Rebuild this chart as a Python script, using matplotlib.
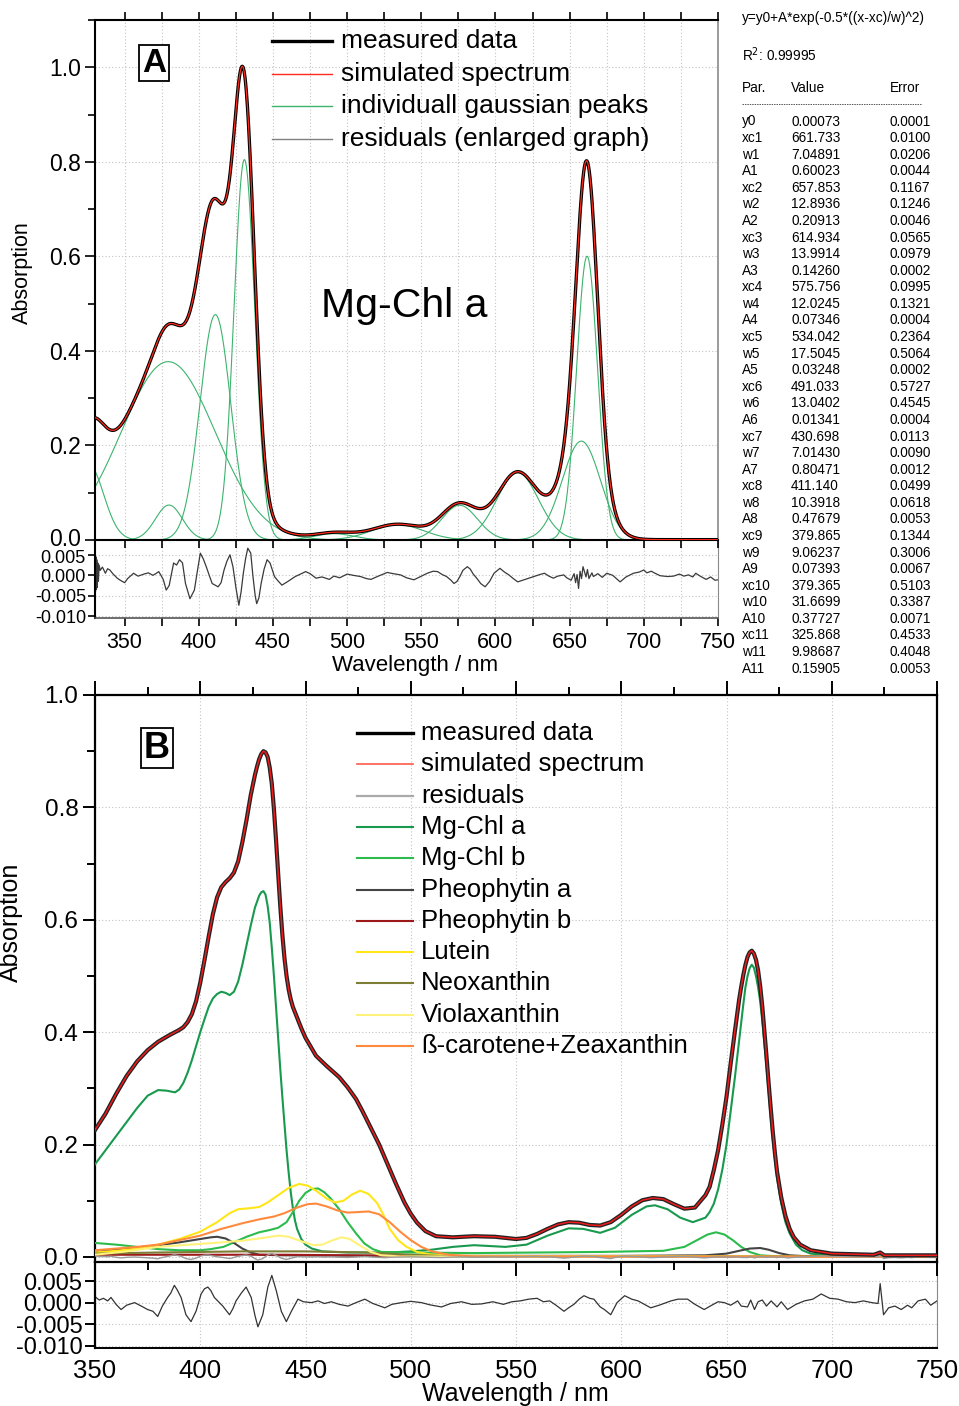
import numpy as np
import matplotlib
matplotlib.use('Agg')
import matplotlib.pyplot as plt
from matplotlib.lines import Line2D
from matplotlib.ticker import MultipleLocator, FormatStrFormatter
from matplotlib.transforms import ScaledTranslation

plt.rcParams['font.family'] = ['Liberation Sans', 'DejaVu Sans']

# ------------------------------------------------------------------ data A
y0 = 0.00073
xc = [661.733, 657.853, 614.934, 575.756, 534.042, 491.033, 430.698, 411.140, 379.865, 379.365, 325.868]
wd = [7.04891, 12.8936, 13.9914, 12.0245, 17.5045, 13.0402, 7.01430, 10.3918, 9.06237, 31.6699, 9.98687]
amp = [0.60023, 0.20913, 0.14260, 0.07346, 0.03248, 0.01341, 0.80471, 0.47679, 0.07393, 0.37727, 0.15905]

tab_par = ['y0'] + [f'{p}{i}' for i in range(1, 12) for p in ('xc', 'w', 'A')]
tab_val = ['0.00073',
           '661.733', '7.04891', '0.60023', '657.853', '12.8936', '0.20913',
           '614.934', '13.9914', '0.14260', '575.756', '12.0245', '0.07346',
           '534.042', '17.5045', '0.03248', '491.033', '13.0402', '0.01341',
           '430.698', '7.01430', '0.80471', '411.140', '10.3918', '0.47679',
           '379.865', '9.06237', '0.07393', '379.365', '31.6699', '0.37727',
           '325.868', '9.98687', '0.15905']
tab_err = ['0.0001',
           '0.0100', '0.0206', '0.0044', '0.1167', '0.1246', '0.0046',
           '0.0565', '0.0979', '0.0002', '0.0995', '0.1321', '0.0004',
           '0.2364', '0.5064', '0.0002', '0.5727', '0.4545', '0.0004',
           '0.0113', '0.0090', '0.0012', '0.0499', '0.0618', '0.0053',
           '0.1344', '0.3006', '0.0067', '0.5103', '0.3387', '0.0071',
           '0.4533', '0.4048', '0.0053']

resA_wl = [330.0, 330.3, 330.6, 330.9, 331.2, 331.5, 331.9, 332.3, 332.8, 333.5, 335, 337, 338.5, 340, 342, 345, 347, 350, 352, 356, 359, 363,
           366, 369, 371, 373, 376, 378, 380, 383, 385, 387, 389, 391, 394, 397, 399, 401, 403, 405, 407, 409, 413, 415, 417, 419, 421, 423, 425, 427,
           428.5, 430, 431.5, 433, 435, 436.5, 438, 439, 440.5, 442, 444, 446, 448, 451, 453, 456, 460, 465, 468, 472, 475, 479, 483, 488, 491, 495, 500,
           504, 509, 513, 516, 521, 527, 531, 536, 540, 545, 549, 554, 558, 561, 564, 567, 570, 572, 574, 576, 578, 581, 583, 585, 588, 590, 593, 596, 599, 603,
           606, 609, 612, 615, 620, 626, 630, 633, 636, 639, 642, 646, 648, 651, 653, 654, 655, 656, 657, 658, 659, 661, 662, 663, 665, 666, 669, 672, 675, 679,
           684, 688, 693, 697, 700, 702, 705, 707, 711, 716, 720, 724, 727, 730, 733, 735, 738, 742, 745, 748, 750]
resA_val = [0.0050, -0.0040, 0.0045, -0.0035, 0.0038, -0.0030, 0.0030, -0.0015, 0.0025, 0.0012, 0.0020, 0.0005, 0.0016, 0.0013, 0.0004, -0.0007, -0.0012, -0.0018, -0.0008, 0.0005, -0.0002, 0.0003,
            0.0006, 0.0000, 0.0004, 0.0009, -0.0010, -0.0036, -0.0025, 0.0030, 0.0025, 0.0038, 0.0030, -0.0020, -0.0057, -0.0036, 0.0010, 0.0054, 0.0040, 0.0021, 0.0000, -0.0020, -0.0028, -0.0018, 0.0013, 0.0035, 0.0050, 0.0021, -0.0030, -0.0073,
            -0.0040, 0.0005, 0.0040, 0.0066, 0.0054, -0.0003, -0.0050, -0.0069, -0.0055, -0.0020, 0.0015, 0.0038, 0.0030, -0.0003, -0.0012, -0.0024, -0.0015, -0.0003, 0.0002, 0.0009, 0.0004, -0.0007, -0.0004, -0.0010, -0.0002, -0.0006, 0.0003,
            0.0000, -0.0003, -0.0008, -0.0010, -0.0002, 0.0007, 0.0004, 0.0001, -0.0006, -0.0011, -0.0004, 0.0005, 0.0010, 0.0009, 0.0002, -0.0003, -0.0012, -0.0020, -0.0015, -0.0003, 0.0012, 0.0021, 0.0015, 0.0003, -0.0010, -0.0020, -0.0028, -0.0015, 0.0005, 0.0017,
            0.0008, 0.0001, -0.0008, -0.0016, -0.0010, -0.0003, 0.0002, 0.0005, -0.0002, -0.0007, -0.0002, 0.0001, -0.0006, -0.0012, 0.0004, -0.0018, 0.0002, -0.0032, 0.0010, -0.0008, 0.0021, -0.0004, 0.0014, -0.0008, 0.0006, -0.0003, 0.0004, -0.0005, 0.0005, 0.0000,
            -0.0016, -0.0004, 0.0005, 0.0008, 0.0013, 0.0006, 0.0010, 0.0006, -0.0001, -0.0003, -0.0002, 0.0003, -0.0002, 0.0001, -0.0004, 0.0005, -0.0002, -0.0010, -0.0004, -0.0012, -0.0011]

# ------------------------------------------------------------------ data B
tot_wl = [350, 355, 360, 365, 370, 375, 380, 385, 390, 392, 394, 396, 398, 400, 402, 404, 406, 408, 410, 412, 414, 416,
          418, 420, 422, 424, 426, 427, 428, 429, 430, 431, 432, 433, 434, 435, 436, 437, 438, 439, 440, 441, 442, 443,
          444, 446, 448, 450, 455, 460, 466, 470, 474, 477, 481, 485, 489, 493, 497, 500, 503, 507, 512, 520, 530, 540,
          550, 555, 560, 565, 570, 575, 580, 585, 590, 595, 600, 605, 610, 615, 620, 625, 630, 635, 640, 642, 644, 646,
          648, 650, 652, 654, 656, 657, 658, 659, 660, 661, 662, 663, 664, 665, 666, 667, 668, 669, 670, 671, 672, 673,
          674, 676, 678, 680, 682, 685, 690, 700, 720, 723, 725, 750]
tot_val = [0.226, 0.255, 0.290, 0.322, 0.348, 0.368, 0.383, 0.394, 0.404, 0.409, 0.418, 0.432, 0.455, 0.488, 0.528, 0.570, 0.610, 0.640, 0.658, 0.667, 0.674, 0.684,
           0.704, 0.738, 0.778, 0.822, 0.858, 0.873, 0.886, 0.895, 0.900, 0.898, 0.890, 0.871, 0.842, 0.797, 0.742, 0.683, 0.625, 0.574, 0.532, 0.500, 0.476, 0.458,
           0.445, 0.426, 0.407, 0.390, 0.358, 0.340, 0.320, 0.302, 0.281, 0.260, 0.230, 0.200, 0.165, 0.130, 0.097, 0.077, 0.061, 0.046, 0.037, 0.035, 0.037, 0.036,
           0.032, 0.034, 0.041, 0.050, 0.058, 0.062, 0.061, 0.057, 0.056, 0.062, 0.075, 0.090, 0.101, 0.105, 0.103, 0.094, 0.086, 0.088, 0.110, 0.125, 0.155, 0.190,
           0.235, 0.285, 0.345, 0.402, 0.458, 0.481, 0.502, 0.520, 0.534, 0.542, 0.545, 0.540, 0.529, 0.510, 0.482, 0.446, 0.402, 0.357, 0.310, 0.265, 0.222, 0.185,
           0.152, 0.106, 0.073, 0.050, 0.035, 0.022, 0.012, 0.006, 0.004, 0.008, 0.003, 0.003]

chla_wl = [350, 355, 360, 365, 370, 375, 380, 384, 388, 390, 392, 394, 396, 398, 400, 402, 404, 406, 408, 410, 412, 414,
           416, 418, 420, 422, 424, 426, 428, 429, 430, 431, 432, 433, 434, 435, 436, 437, 438, 439, 440, 441, 442, 443,
           444, 445, 446, 448, 450, 453, 458, 470, 490, 500, 510, 520, 530, 545, 555, 565, 575, 582, 590, 597, 605, 612,
           616, 622, 628, 634, 640, 642, 644, 646, 648, 650, 652, 654, 656, 658, 659, 660, 661, 662, 663, 664, 665, 666,
           667, 668, 669, 670, 671, 672, 673, 674, 676, 678, 680, 683, 686, 690, 700, 750]
chla_val = [0.165, 0.190, 0.215, 0.240, 0.265, 0.287, 0.297, 0.296, 0.293, 0.298, 0.310, 0.328, 0.350, 0.375, 0.400, 0.423, 0.445, 0.460, 0.468, 0.472, 0.470, 0.466,
            0.472, 0.490, 0.520, 0.555, 0.590, 0.622, 0.643, 0.649, 0.651, 0.645, 0.625, 0.595, 0.550, 0.500, 0.445, 0.390, 0.335, 0.285, 0.237, 0.190, 0.150, 0.115,
            0.087, 0.065, 0.050, 0.032, 0.022, 0.015, 0.010, 0.008, 0.008, 0.010, 0.013, 0.018, 0.021, 0.018, 0.022, 0.038, 0.051, 0.050, 0.043, 0.052, 0.075, 0.090,
            0.092, 0.085, 0.070, 0.062, 0.070, 0.080, 0.095, 0.120, 0.155, 0.200, 0.260, 0.320, 0.385, 0.450, 0.480, 0.500, 0.514, 0.520, 0.515, 0.500, 0.480, 0.455,
            0.420, 0.380, 0.340, 0.295, 0.250, 0.210, 0.175, 0.140, 0.095, 0.062, 0.042, 0.022, 0.012, 0.006, 0.003, 0.001]

chlb_wl = [350, 360, 370, 380, 390, 400, 405, 411, 416, 422, 428, 433, 437, 441, 444, 447, 450, 453, 456, 459, 462, 466,
           470, 474, 478, 482, 486, 500, 530, 560, 590, 620, 630, 636, 641, 645, 649, 653, 657, 661, 666, 675, 750]
chlb_val = [0.025, 0.022, 0.018, 0.014, 0.012, 0.012, 0.014, 0.018, 0.026, 0.036, 0.044, 0.048, 0.052, 0.062, 0.080, 0.100, 0.114, 0.121, 0.122, 0.115, 0.104, 0.085,
            0.062, 0.042, 0.024, 0.014, 0.009, 0.008, 0.007, 0.008, 0.009, 0.011, 0.018, 0.030, 0.040, 0.044, 0.040, 0.030, 0.018, 0.009, 0.003, 0.001, 0.000]

pheoa_wl = [350, 360, 370, 380, 390, 400, 405, 408, 412, 416, 420, 424, 428, 440, 500, 600, 640, 650, 656, 661, 666, 670, 675, 680, 690, 750]
pheoa_val = [0.009, 0.013, 0.017, 0.021, 0.026, 0.032, 0.035, 0.036, 0.033, 0.025, 0.015, 0.008, 0.004, 0.003, 0.002, 0.002, 0.003, 0.006, 0.011, 0.015, 0.016, 0.013, 0.007, 0.003, 0.001, 0.000]

pheob_wl = [350, 400, 440, 500, 600, 750]
pheob_val = [0.004, 0.004, 0.004, 0.002, 0.001, 0.001]

neox_wl = [350, 380, 420, 450, 480, 500, 520, 750]
neox_val = [0.006, 0.008, 0.010, 0.010, 0.008, 0.004, 0.001, 0.000]

lut_wl = [350, 360, 370, 380, 390, 400, 408, 414, 418, 424, 428, 432, 437, 442, 447, 451, 455, 460, 464, 468, 472, 476,
          480, 484, 487, 490, 494, 498, 503, 510, 520, 750]
lut_val = [0.008, 0.011, 0.015, 0.022, 0.032, 0.045, 0.062, 0.078, 0.085, 0.087, 0.089, 0.097, 0.110, 0.123, 0.130, 0.127, 0.118, 0.104, 0.097, 0.100, 0.111, 0.118,
           0.112, 0.096, 0.075, 0.050, 0.030, 0.018, 0.009, 0.004, 0.002, 0.000]

viol_wl = [350, 365, 380, 395, 410, 420, 430, 437, 442, 448, 454, 458, 463, 467, 471, 476, 481, 486, 495, 750]
viol_val = [0.004, 0.010, 0.018, 0.022, 0.026, 0.029, 0.034, 0.038, 0.036, 0.028, 0.021, 0.022, 0.030, 0.035, 0.032, 0.020, 0.009, 0.003, 0.001, 0.000]

carz_wl = [350, 360, 370, 380, 390, 400, 410, 420, 428, 435, 440, 446, 451, 455, 460, 465, 470, 475, 480, 485, 490, 495,
           500, 505, 510, 518, 530, 750]
carz_val = [0.012, 0.015, 0.018, 0.022, 0.030, 0.038, 0.050, 0.060, 0.067, 0.072, 0.078, 0.088, 0.094, 0.095, 0.090, 0.083, 0.079, 0.080, 0.081, 0.076, 0.062, 0.045,
            0.030, 0.018, 0.010, 0.004, 0.001, 0.000]

resB_wl = [350.5, 352, 354, 356, 357.6, 360, 362.4, 365, 368.8, 372, 375, 377.5, 379.8, 382, 384.5, 386, 387.7, 389, 390.9, 393.2, 395.6, 398, 400.4, 402, 403.6,
           405, 406.7, 410.7, 413.9, 415.5, 417, 419.5, 421.8, 424.2, 426, 427.4, 429.7, 432.1, 434, 436.1, 438.5, 440.9, 443.3, 446.4, 449, 452.8, 456, 459,
           462.3, 466, 470.2, 474, 478.2, 482, 487.7, 491, 495.6, 500, 505.1, 509, 514.6, 519, 524.1, 529, 533.6, 539, 544, 548, 552, 556, 560, 563,
           566, 569, 572.8, 575, 577.5, 580, 582.3, 585, 587, 590, 592, 595, 598, 601.6, 605, 608, 611, 614, 618, 623.6, 627, 631.5, 635, 639.4,
           643, 646, 649, 652, 655.3, 657, 660, 661.5, 663.3, 665, 667, 669, 671.2, 674, 676, 679, 683, 687, 691, 695, 699, 703, 707, 711, 715,
           719, 722, 723, 724.6, 727, 730, 733, 736, 738, 741, 744.5, 747, 750]
resB_val = [0.0012, 0.0006, 0.0010, 0.0004, 0.0012, -0.0004, -0.0016, -0.0006, 0.0000, -0.0008, -0.0016, -0.0020, -0.0032, -0.0008, 0.0012, 0.0022, 0.0040, 0.0030, 0.0012, -0.0028, -0.0044, -0.0020, 0.0020, 0.0032, 0.0036,
            0.0028, 0.0012, -0.0008, -0.0028, -0.0014, 0.0004, 0.0022, 0.0036, 0.0012, -0.0030, -0.0056, -0.0028, 0.0036, 0.0063, 0.0028, -0.0020, -0.0044, -0.0020, 0.0008, 0.0002, 0.0000, 0.0004, -0.0002,
            0.0002, -0.0004, -0.0008, 0.0000, 0.0008, -0.0002, -0.0012, -0.0004, 0.0000, 0.0003, 0.0000, -0.0005, -0.0010, -0.0002, 0.0002, -0.0004, -0.0003, 0.0002, -0.0004, 0.0002, 0.0004, 0.0008, 0.0010, 0.0002,
            0.0004, -0.0006, -0.0020, -0.0012, -0.0004, 0.0008, 0.0016, 0.0010, 0.0008, -0.0010, -0.0016, -0.0028, 0.0000, 0.0016, 0.0008, 0.0004, -0.0004, -0.0012, -0.0006, 0.0004, 0.0008, 0.0008, -0.0004, -0.0016,
            -0.0006, 0.0002, 0.0000, -0.0006, 0.0004, -0.0008, -0.0010, 0.0006, -0.0016, 0.0002, 0.0006, -0.0008, 0.0004, -0.0010, 0.0002, -0.0016, -0.0004, 0.0004, 0.0008, 0.0020, 0.0010, 0.0008, 0.0002, 0.0000, 0.0004,
            0.0000, -0.0002, 0.0044, -0.0028, -0.0012, -0.0008, -0.0016, -0.0006, -0.0012, 0.0004, 0.0008, -0.0006, 0.0004]

# ------------------------------------------------------------------ figure
W, H = 959, 1406
fig = plt.figure(figsize=(W / 100, H / 100), dpi=100)


def px_axes(l, t, r, b):
    return fig.add_axes([l / W, 1 - b / H, (r - l) / W, (b - t) / H])


def fx(x):
    return x / W


def fy(y):
    return 1 - y / H


GRID = dict(color='#c4c4c4', linestyle=(0, (1, 2)), linewidth=0.8)

# ============================== Panel A ==============================
axAr = px_axes(95, 540, 718, 618)
axA = px_axes(95, 20, 718, 540)
axAr.patch.set_alpha(0)

xg = np.arange(330.0, 750.01, 0.25)
peaks = [a * np.exp(-0.5 * ((xg - c) / w) ** 2) for c, w, a in zip(xc, wd, amp)]
model = y0 + np.sum(peaks, axis=0)

for p in peaks:
    axA.plot(xg, p, color='#3cb46e', lw=0.8, zorder=2)
axA.plot(xg, model, color='black', lw=2.4, zorder=3)
axA.plot(xg, model, color='#ff2a1a', lw=0.9, zorder=4)

axA.set_xlim(330, 750)
axA.set_ylim(0, 1.1)
axA.xaxis.set_major_locator(MultipleLocator(50))
axA.xaxis.set_minor_locator(MultipleLocator(25))
axA.yaxis.set_major_locator(MultipleLocator(0.2))
axA.yaxis.set_minor_locator(MultipleLocator(0.1))
axA.yaxis.set_major_formatter(FormatStrFormatter('%.1f'))
axA.tick_params(axis='x', which='both', direction='out', length=6, width=1.2,
                top=True, bottom=True, labelbottom=False, labeltop=False)
axA.tick_params(axis='y', which='major', direction='out', length=7, width=1.2, labelsize=16.5, pad=3)
axA.tick_params(axis='y', which='minor', direction='out', length=5, width=1.2)
axA.grid(True, axis='x', which='both', **GRID)
axA.grid(True, axis='y', which='major', **GRID)
axA.set_axisbelow(True)
for s in ('left', 'top', 'bottom'):
    axA.spines[s].set_linewidth(1.5)
axA.spines['right'].set_color('#8a8a8a')
axA.spines['right'].set_linewidth(1.2)

axAr.plot(resA_wl, resA_val, color='#3a3a3a', lw=0.9)
axAr.set_xlim(330, 750)
axAr.set_ylim(-0.0104, 0.0086)
axAr.set_yticks([-0.010, -0.005, 0.000, 0.005])
axAr.yaxis.set_major_formatter(FormatStrFormatter('%.3f'))
axAr.xaxis.set_major_locator(MultipleLocator(50))
axAr.xaxis.set_minor_locator(MultipleLocator(25))
axAr.tick_params(axis='x', which='both', direction='out', length=6, width=1.2, labelsize=15.5, pad=4)
axAr.tick_params(axis='y', direction='out', length=5, width=1.2, labelsize=13, pad=1.5)
axAr.grid(True, axis='x', which='both', **GRID)
axAr.grid(True, axis='y', which='major', **GRID)
axAr.spines['top'].set_visible(False)
axAr.spines['left'].set_linewidth(1.5)
axAr.spines['bottom'].set_linewidth(1.2)
axAr.spines['bottom'].set_color('#555555')
axAr.spines['right'].set_color('#8a8a8a')

fig.text(fx(22), fy(273), 'Absorption', rotation=90, ha='center', va='center', fontsize=15.5)
fig.text(fx(415), fy(666), 'Wavelength / nm', ha='center', va='center', fontsize=16)
fig.text(fx(154), fy(63), 'A', ha='center', va='center', fontsize=24, fontweight='bold',
         bbox=dict(boxstyle='square,pad=0.08', fc='white', ec='black', lw=1.3))
fig.text(fx(404), fy(306), 'Mg-Chl a', ha='center', va='center', fontsize=29.5)

legA = [('measured data', 'black', 2.4), ('simulated spectrum', '#ff2a1a', 1.0),
        ('individuall gaussian peaks', '#3cb46e', 1.0), ('residuals (enlarged graph)', '#808080', 1.0)]
for i, (lab, col, lw) in enumerate(legA):
    yy = 41 + i * 32.7
    fig.add_artist(Line2D([fx(272), fx(332)], [fy(yy), fy(yy)], color=col, lw=lw, transform=fig.transFigure))
    fig.text(fx(341), fy(yy), lab, ha='left', va='center', fontsize=19)

# table
tfs = 9.8
fig.text(fx(742), fy(18), 'y=y0+A*exp(-0.5*((x-xc)/w)^2)', ha='left', va='center', fontsize=tfs)
fig.text(fx(742), fy(55), 'R$^{2}$: 0.99995', ha='left', va='center', fontsize=tfs)
fig.text(fx(742), fy(88), 'Par.', ha='left', va='center', fontsize=tfs)
fig.text(fx(791), fy(88), 'Value', ha='left', va='center', fontsize=tfs)
fig.text(fx(890), fy(88), 'Error', ha='left', va='center', fontsize=tfs)
fig.add_artist(Line2D([fx(742), fx(922)], [fy(104), fy(104)], color='#555555', lw=0.7,
                      linestyle=(0, (1.5, 1)), transform=fig.transFigure))
for i, (p, v, e) in enumerate(zip(tab_par, tab_val, tab_err)):
    yy = 121.5 + i * 16.58
    fig.text(fx(742), fy(yy), p, ha='left', va='center', fontsize=tfs)
    fig.text(fx(791), fy(yy), v, ha='left', va='center', fontsize=tfs)
    fig.text(fx(890), fy(yy), e, ha='left', va='center', fontsize=tfs)

# ============================== Panel B ==============================
axBr = px_axes(95, 1262, 937, 1348)
axB = px_axes(95, 695, 937, 1262)
axBr.patch.set_alpha(0)

comps = [(chla_wl, chla_val, '#18994e', 'Mg-Chl a'),
         (chlb_wl, chlb_val, '#2cbb4c', 'Mg-Chl b'),
         (pheoa_wl, pheoa_val, '#444444', 'Pheophytin a'),
         (pheob_wl, pheob_val, '#9e1a1a', 'Pheophytin b'),
         (lut_wl, lut_val, '#ffe619', 'Lutein'),
         (neox_wl, neox_val, '#7d7d35', 'Neoxanthin'),
         (viol_wl, viol_val, '#fff27a', 'Violaxanthin'),
         (carz_wl, carz_val, '#ff8a3d', 'ß-carotene+Zeaxanthin')]
for wl, val, col, lab in comps:
    axB.plot(wl, val, color=col, lw=1.5, zorder=3)
axB.plot(resB_wl, resB_val, color='#9a9a9a', lw=1.0, zorder=3)
axB.plot(tot_wl, tot_val, color='#222222', lw=3.0, zorder=4)
axB.plot(tot_wl, tot_val, color='#ee1c1c', lw=1.1, zorder=5)

axB.set_xlim(350, 750)
axB.set_ylim(-0.0089, 1.0)
axB.xaxis.set_major_locator(MultipleLocator(50))
axB.xaxis.set_minor_locator(MultipleLocator(25))
axB.yaxis.set_major_locator(MultipleLocator(0.2))
axB.yaxis.set_minor_locator(MultipleLocator(0.1))
axB.yaxis.set_major_formatter(FormatStrFormatter('%.1f'))
axB.tick_params(axis='x', which='major', direction='out', length=10, width=1.4,
                top=True, bottom=True, labelbottom=False, labeltop=False)
axB.tick_params(axis='x', which='minor', direction='out', length=6, width=1.4, top=True, bottom=True)
axB.tick_params(axis='y', which='major', direction='out', length=9, width=1.4, labelsize=17.5, pad=3)
axB.tick_params(axis='y', which='minor', direction='out', length=6, width=1.4)
axB.grid(True, axis='both', which='major', **GRID)
axB.set_axisbelow(True)
for s in axB.spines.values():
    s.set_linewidth(1.6)

axBr.plot(resB_wl, resB_val, color='#333333', lw=0.9)
axBr.set_xlim(350, 750)
axBr.set_ylim(-0.0105, 0.0094)
axBr.set_yticks([-0.010, -0.005, 0.000, 0.005])
axBr.yaxis.set_major_formatter(FormatStrFormatter('%.3f'))
axBr.xaxis.set_major_locator(MultipleLocator(50))
axBr.tick_params(axis='x', which='both', length=0, labelsize=18.5, pad=8)
axBr.tick_params(axis='y', direction='out', length=7, width=1.4, labelsize=17, pad=2)
axBr.grid(True, axis='both', which='major', **GRID)
axBr.spines['top'].set_visible(False)
axBr.spines['left'].set_linewidth(1.6)
axBr.spines['bottom'].set_linewidth(1.4)
axBr.spines['right'].set_color('#8a8a8a')

fig.text(fx(11), fy(922), 'Absorption', rotation=90, ha='center', va='center', fontsize=18)
fig.text(fx(515), fy(1394), 'Wavelength / nm', ha='center', va='center', fontsize=18)
fig.text(fx(157), fy(748), 'B', ha='center', va='center', fontsize=26, fontweight='bold',
         bbox=dict(boxstyle='square,pad=0.08', fc='white', ec='black', lw=1.3))

legB = [('measured data', 'black', 2.4), ('simulated spectrum', '#ff5a4a', 1.2),
        ('residuals', '#aaaaaa', 1.6)] + [(lab, col, 1.5) for _, _, col, lab in comps]
for i, (lab, col, lw) in enumerate(legB):
    yy = 733 + i * 31.3
    fig.add_artist(Line2D([fx(357), fx(413)], [fy(yy), fy(yy)], color=col, lw=lw, transform=fig.transFigure))
    fig.text(fx(421), fy(yy), lab, ha='left', va='center', fontsize=18.5)

# nudge the crowded tick labels where the main panel meets its residual panel
fig.canvas.draw()
up = ScaledTranslation(0, 3 / 100, fig.dpi_scale_trans)
down = ScaledTranslation(0, -2 / 100, fig.dpi_scale_trans)
for tk in axA.yaxis.get_major_ticks():
    if abs(tk.get_loc()) < 1e-9:
        tk.label1.set_transform(tk.label1.get_transform() + up)
for tk in axAr.yaxis.get_major_ticks():
    if abs(tk.get_loc() - 0.005) < 1e-9:
        tk.label1.set_transform(tk.label1.get_transform() + down)

fig.savefig('out.png', dpi=100)
